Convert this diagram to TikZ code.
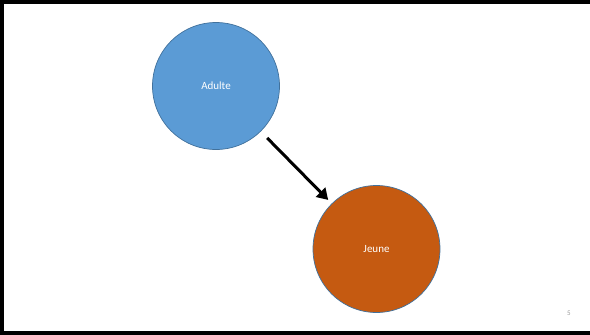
\documentclass[tikz,border=0pt]{standalone}
\usepackage{fontspec}
\setmainfont{Carlito}
\usepackage{tikz}
\usetikzlibrary{arrows.meta}
\definecolor{adultblue}{HTML}{5B9BD5}
\definecolor{youngorange}{HTML}{C55A11}
\definecolor{ringblue}{HTML}{41719C}

\begin{document}
\begin{tikzpicture}[x=1pt,y=-1pt,
	stage/.style={circle,draw=ringblue,line width=0.7pt,minimum size=127pt,inner sep=0pt,text=white,font=\fontsize{11}{13}\selectfont}]
\useasboundingbox (0,0) rectangle (590,335);
\draw [line width=4pt] (590,2) -- (2,2) -- (2,333) -- (590,333);
\node [stage,fill=adultblue] (adulte) at (216,86) {Adulte};
\node [stage,fill=youngorange] (jeune) at (376.5,249) {Jeune};
\draw [line width=3pt,-{Triangle[length=11pt,width=13pt]},shorten <=9pt,shorten >=5pt] (adulte) -- (jeune);
\node [text=gray!80,font=\fontsize{7}{8}\selectfont] (page) at (569,313) {5};
\end{tikzpicture}
\end{document}
